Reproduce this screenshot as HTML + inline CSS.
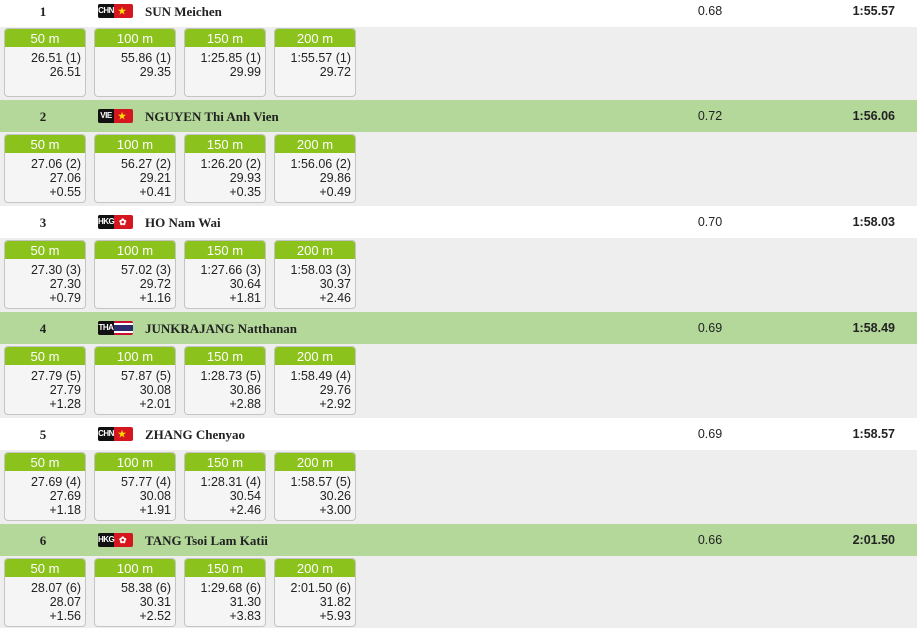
<!DOCTYPE html>
<html><head><meta charset="utf-8"><style>
*{margin:0;padding:0;box-sizing:border-box}
body{width:917px;height:628px;background:#eeeeee;position:relative;overflow:hidden;font-family:"Liberation Sans",sans-serif;color:#222}
.h{position:absolute;left:0;width:917px;height:32px;background:#fff}
.h.g{background:#b3d89a}
.h span{position:absolute;top:0;line-height:33px;font-size:12.5px}
.rk{left:36px;width:14px;text-align:center;font-family:"Liberation Serif",serif;font-weight:bold;font-size:13px!important}
.fl{position:absolute;left:98px;top:9px;width:35px;height:14px;border-radius:2px;overflow:hidden;background:#d5161f}
.fl i{position:absolute;left:0;top:0;width:16px;height:14px;background:#111;color:#fff;font-style:normal;font-size:8px;line-height:14px;text-align:center;font-weight:bold;letter-spacing:-0.5px}
.fl b{position:absolute;left:20px;top:0;color:#ffde00;font-size:9px;line-height:14px}
.fl.th{background:linear-gradient(#c8102e 0 2px,#fff 2px 4px,#2d2a6e 4px 10px,#fff 10px 12px,#c8102e 12px)}
.fl.hk b{color:#fff;left:21px}
.nm{left:145px;font-family:"Liberation Serif",serif;font-weight:bold;font-size:13px!important}
.rt{left:690px;width:40px;text-align:center}
.ft{right:22px;font-weight:bold}
.b{position:absolute;width:82px;height:69px;border:1px solid #c4c4c4;border-radius:4px;background:#f5f5f5;overflow:hidden}
.b .t{height:18px;background:#8cc21c;color:#fff;text-align:center;font-size:13px;line-height:19px}
.b .v{padding:4px 4px 0 0;text-align:right;font-size:12.5px;line-height:14px}
</style></head><body>

<div class="h" style="top:-5px"><span class="rk">1</span><div class="fl"><i>CHN</i><b>★</b></div><span class="nm">SUN Meichen</span><span class="rt">0.68</span><span class="ft">1:55.57</span></div>
<div class="b" style="left:4px;top:28px"><div class="t">50 m</div><div class="v">26.51 (1)<br>26.51</div></div>
<div class="b" style="left:94px;top:28px"><div class="t">100 m</div><div class="v">55.86 (1)<br>29.35</div></div>
<div class="b" style="left:184px;top:28px"><div class="t">150 m</div><div class="v">1:25.85 (1)<br>29.99</div></div>
<div class="b" style="left:274px;top:28px"><div class="t">200 m</div><div class="v">1:55.57 (1)<br>29.72</div></div>

<div class="h g" style="top:100px"><span class="rk">2</span><div class="fl"><i>VIE</i><b>★</b></div><span class="nm">NGUYEN Thi Anh Vien</span><span class="rt">0.72</span><span class="ft">1:56.06</span></div>
<div class="b" style="left:4px;top:134px"><div class="t">50 m</div><div class="v">27.06 (2)<br>27.06<br>+0.55</div></div>
<div class="b" style="left:94px;top:134px"><div class="t">100 m</div><div class="v">56.27 (2)<br>29.21<br>+0.41</div></div>
<div class="b" style="left:184px;top:134px"><div class="t">150 m</div><div class="v">1:26.20 (2)<br>29.93<br>+0.35</div></div>
<div class="b" style="left:274px;top:134px"><div class="t">200 m</div><div class="v">1:56.06 (2)<br>29.86<br>+0.49</div></div>

<div class="h" style="top:206px"><span class="rk">3</span><div class="fl hk"><i>HKG</i><b>✿</b></div><span class="nm">HO Nam Wai</span><span class="rt">0.70</span><span class="ft">1:58.03</span></div>
<div class="b" style="left:4px;top:240px"><div class="t">50 m</div><div class="v">27.30 (3)<br>27.30<br>+0.79</div></div>
<div class="b" style="left:94px;top:240px"><div class="t">100 m</div><div class="v">57.02 (3)<br>29.72<br>+1.16</div></div>
<div class="b" style="left:184px;top:240px"><div class="t">150 m</div><div class="v">1:27.66 (3)<br>30.64<br>+1.81</div></div>
<div class="b" style="left:274px;top:240px"><div class="t">200 m</div><div class="v">1:58.03 (3)<br>30.37<br>+2.46</div></div>

<div class="h g" style="top:312px"><span class="rk">4</span><div class="fl th"><i>THA</i></div><span class="nm">JUNKRAJANG Natthanan</span><span class="rt">0.69</span><span class="ft">1:58.49</span></div>
<div class="b" style="left:4px;top:346px"><div class="t">50 m</div><div class="v">27.79 (5)<br>27.79<br>+1.28</div></div>
<div class="b" style="left:94px;top:346px"><div class="t">100 m</div><div class="v">57.87 (5)<br>30.08<br>+2.01</div></div>
<div class="b" style="left:184px;top:346px"><div class="t">150 m</div><div class="v">1:28.73 (5)<br>30.86<br>+2.88</div></div>
<div class="b" style="left:274px;top:346px"><div class="t">200 m</div><div class="v">1:58.49 (4)<br>29.76<br>+2.92</div></div>

<div class="h" style="top:418px"><span class="rk">5</span><div class="fl"><i>CHN</i><b>★</b></div><span class="nm">ZHANG Chenyao</span><span class="rt">0.69</span><span class="ft">1:58.57</span></div>
<div class="b" style="left:4px;top:452px"><div class="t">50 m</div><div class="v">27.69 (4)<br>27.69<br>+1.18</div></div>
<div class="b" style="left:94px;top:452px"><div class="t">100 m</div><div class="v">57.77 (4)<br>30.08<br>+1.91</div></div>
<div class="b" style="left:184px;top:452px"><div class="t">150 m</div><div class="v">1:28.31 (4)<br>30.54<br>+2.46</div></div>
<div class="b" style="left:274px;top:452px"><div class="t">200 m</div><div class="v">1:58.57 (5)<br>30.26<br>+3.00</div></div>

<div class="h g" style="top:524px"><span class="rk">6</span><div class="fl hk"><i>HKG</i><b>✿</b></div><span class="nm">TANG Tsoi Lam Katii</span><span class="rt">0.66</span><span class="ft">2:01.50</span></div>
<div class="b" style="left:4px;top:558px"><div class="t">50 m</div><div class="v">28.07 (6)<br>28.07<br>+1.56</div></div>
<div class="b" style="left:94px;top:558px"><div class="t">100 m</div><div class="v">58.38 (6)<br>30.31<br>+2.52</div></div>
<div class="b" style="left:184px;top:558px"><div class="t">150 m</div><div class="v">1:29.68 (6)<br>31.30<br>+3.83</div></div>
<div class="b" style="left:274px;top:558px"><div class="t">200 m</div><div class="v">2:01.50 (6)<br>31.82<br>+5.93</div></div>

</body></html>
